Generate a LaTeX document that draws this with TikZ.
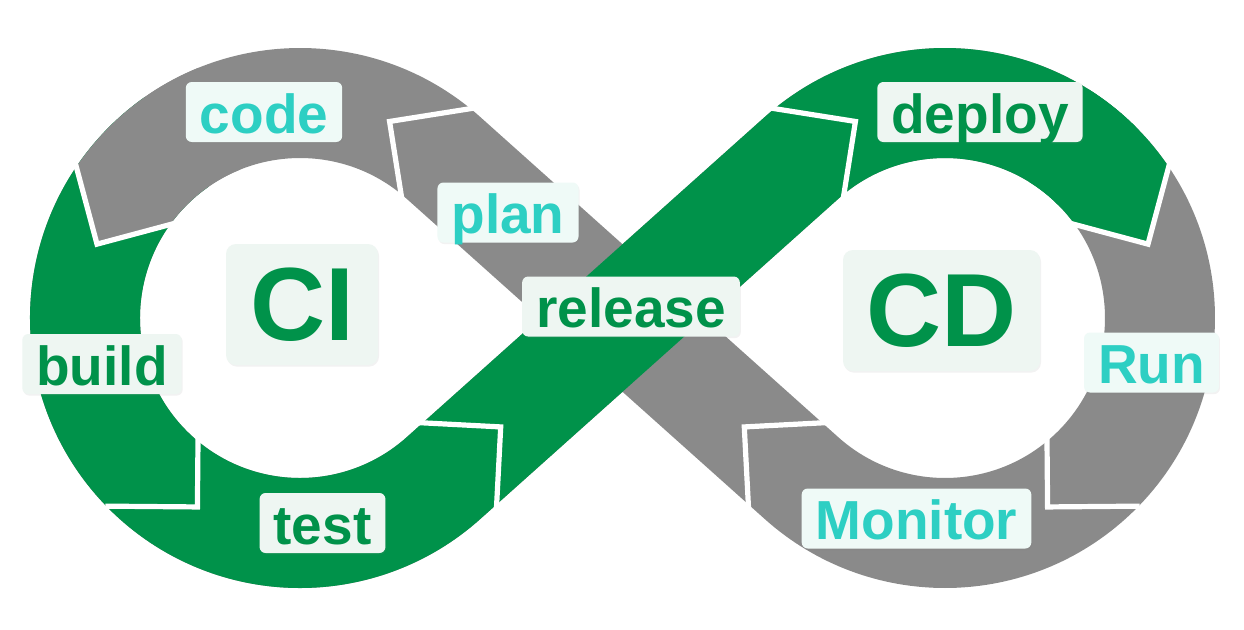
\documentclass[tikz,border=0pt]{standalone}
\usepackage{fontspec}
\setmainfont{Liberation Sans}
\usetikzlibrary{calc,shadows}
\definecolor{bandgreen}{HTML}{00924A}
\definecolor{bandgray}{HTML}{8A8A8A}
\definecolor{cyantext}{HTML}{2DCFC3}
\definecolor{boxgreen}{HTML}{EEF6F2}
\definecolor{boxcyan}{HTML}{EFFAF7}
\begin{document}
\begin{tikzpicture}[x=0.5pt,y=0.5pt,
  band/.style={line width=55pt},
  sepline/.style={draw=white,line width=2.6pt,line join=miter,line cap=butt},
  lbl/.style={rounded corners=3pt,inner xsep=7pt,inner ysep=1pt,text height=24.5pt,text depth=3.5pt,
     font=\fontsize{27.5pt}{30pt}\selectfont\bfseries,
     drop shadow={opacity=0.10,shadow xshift=0.5pt,shadow yshift=-0.8pt}},
  glbl/.style={lbl,fill=boxgreen,text=bandgreen},
  clbl/.style={lbl,fill=boxcyan,text=cyantext},
  bigbox/.style={rounded corners=5pt,fill=boxgreen,text=bandgreen,inner sep=0pt,
     font=\fontsize{52pt}{56pt}\selectfont\bfseries,minimum height=60.5pt,
     drop shadow={opacity=0.10,shadow xshift=0.5pt,shadow yshift=-0.8pt}}
]
\useasboundingbox (0,0) rectangle (1244,-629);
\fill[white] (0,0) rectangle (1244,-629);

\coordinate (C1) at (300,-318);
\coordinate (C2) at (945,-318);
\coordinate (Tg1) at ([shift={(48.19:215)}]C1);
\coordinate (Tr1) at ([shift={(-48.19:215)}]C1);
\coordinate (Tr2) at ([shift={(131.81:215)}]C2);
\coordinate (Tg2) at ([shift={(228.19:215)}]C2);

% separator tips
\coordinate (s1) at ([shift={(138.19:77)}]Tg2);
\coordinate (s2) at ([shift={(65.5:216)}]C1);
\coordinate (s3) at ([shift={(160:216)}]C1);
\coordinate (s4) at ([shift={(241.5:215)}]C1);
\coordinate (s5) at ([shift={(41.81:77)}]Tr1);
\coordinate (s6) at ([shift={(114.5:216)}]C2);
\coordinate (s7) at ([shift={(20:216)}]C2);
\coordinate (s8) at ([shift={(-61.5:215)}]C2);

% gray band (whole loop)
\draw[band,bandgray] (Tg2) -- (Tg1) arc[start angle=48.19,end angle=311.81,radius=215]
   -- (Tr2) arc[start angle=131.81,end angle=-131.81,radius=215] -- cycle;

% green part
\draw[band,bandgreen] ([shift={(125:215)}]C1) arc[start angle=125,end angle=311.81,radius=215]
   -- (Tr2) arc[start angle=131.81,end angle=45,radius=215];

% gray head of "code" into green
\begin{scope}
\clip (s3) -- ($(s3)+(105:150)$) -- ($(s3)+(105:150)+(60:150)$) -- ($(s3)+(15:150)+(60:150)$) -- ($(s3)+(15:150)$) -- cycle;
\draw[band,bandgray] ([shift={(112:215)}]C1) arc[start angle=112,end angle=168,radius=215];
\end{scope}

% green head of "deploy" into gray
\begin{scope}
\clip (s7) -- ($(s7)+(75:150)$) -- ($(s7)+(75:150)+(120:150)$) -- ($(s7)+(165:150)+(120:150)$) -- ($(s7)+(165:150)$) -- cycle;
\draw[band,bandgreen] ([shift={(58:215)}]C2) arc[start angle=58,end angle=12,radius=215];
\end{scope}

% white chevron separators
\draw[sepline] ($(s1)+(273:92)$) -- (s1) -- ($(s1)+(3:92)$);
\draw[sepline] ($(s2)+(-81:92)$) -- (s2) -- ($(s2)+(9:92)$);
\draw[sepline] ($(s3)+(105:92)$) -- (s3) -- ($(s3)+(15:92)$);
\draw[sepline] ($(s4)+(179.5:92)$) -- (s4) -- ($(s4)+(89.5:92)$);
\draw[sepline] ($(s5)+(177:92)$) -- (s5) -- ($(s5)+(267:92)$);
\draw[sepline] ($(s6)+(171:92)$) -- (s6) -- ($(s6)+(261:92)$);
\draw[sepline] ($(s7)+(75:92)$) -- (s7) -- ($(s7)+(165:92)$);
\draw[sepline] ($(s8)+(0.5:92)$) -- (s8) -- ($(s8)+(90.5:92)$);

% labels
\node[clbl] (code) at (264,-112) {code};
\node[clbl] (plan) at (508,-212.5) {plan};
\node[glbl] (release) at (631,-306.5) {release};
\node[glbl] (build) at (102,-364) {build};
\node[glbl] (test) at (322.5,-523) {test};
\node[glbl] (deploy) at (980,-112) {deploy};
\node[clbl] (run) at (1151.5,-362.5) {Run};
\node[clbl] (monitor) at (916.5,-518.5) {Monitor};
\node[bigbox,minimum width=76pt] (ci) at (302,-304.5) {CI};
\node[bigbox,minimum width=98.5pt] (cd) at (941.5,-310.5) {CD};
\end{tikzpicture}
\end{document}
